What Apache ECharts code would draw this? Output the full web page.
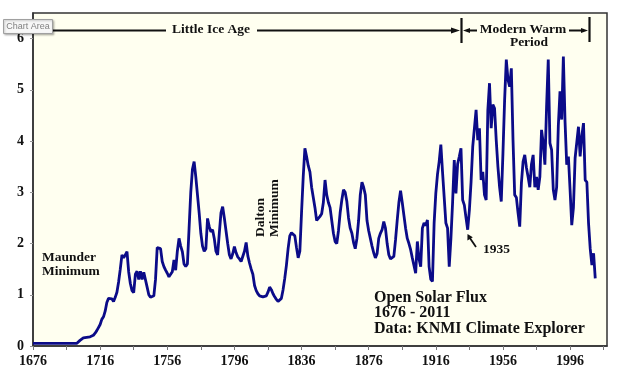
<!DOCTYPE html>
<html>
<head>
<meta charset="utf-8">
<script src="https://cdn.jsdelivr.net/npm/echarts@6/dist/echarts.min.js"></script>
<style>
html,body{margin:0;padding:0;background:#fff;}
#chart{width:624px;height:378px;}
</style>
</head>
<body>
<div id="chart"></div>
<script>
// Open solar flux, yearly values
var startYear = 1676;
var flux1676to1715 = [0.05,0.05,0.05,0.05,0.05,0.05,0.05,0.05,0.05,0.05,
  0.05,0.05,0.05,0.05,0.05,0.05,0.05,0.05,0.05,0.05,
  0.05,0.05,0.05,0.05,0.05,0.05,0.05,0.08,0.11,0.14,
  0.16,0.17,0.17,0.17,0.18,0.19,0.21,0.25,0.30,0.36];
var flux1716to1786 = [0.42,0.52,
  0.57,0.68,0.85,0.93,0.95,0.92,0.87,0.95,1.05,1.25,
  1.50,1.78,1.72,1.78,1.84,1.45,1.22,1.08,1.04,1.40,
  1.46,1.30,1.46,1.30,1.44,1.42,1.15,1.00,0.95,0.96,
  0.98,1.30,1.92,1.94,1.90,1.65,1.55,1.48,1.42,1.35,
  1.36,1.45,1.68,1.48,1.85,2.10,1.95,1.84,1.60,1.55,
  1.60,2.30,3.00,3.45,3.60,3.30,2.95,2.60,2.20,1.95,
  1.85,1.90,2.49,2.33,2.23,2.27,2.10,1.85,1.78];
var flux1787to1903 = [2.20,2.60,2.72,2.50,2.25,2.00,1.78,1.70,1.80,1.94,
  1.82,1.74,1.70,1.65,1.62,1.85,2.02,1.76,1.62,1.50,
  1.40,1.18,1.08,1.02,0.98,0.96,0.96,0.97,0.98,1.05,
  1.15,1.10,1.02,0.96,0.91,0.87,0.89,0.93,1.10,1.32,
  1.58,1.90,2.15,2.21,2.23,2.15,1.92,1.72,1.85,2.60,
  3.30,3.86,3.70,3.52,3.40,3.10,2.90,2.70,2.45,2.45,
  2.53,2.58,2.80,3.24,2.95,2.80,2.70,2.45,2.20,2.04,
  2.00,2.25,2.60,2.85,3.05,3.00,2.82,2.50,2.30,2.20,
  2.02,1.90,2.10,2.45,2.95,3.20,3.10,2.95,2.45,2.25,
  2.10,1.95,1.82,1.72,1.80,2.10,2.20,2.27,2.43,2.30,
  2.00,1.78,1.70,1.69,1.75,2.07,2.45,2.80,3.03,2.80,
  2.55,2.30,2.10,2.00,1.88,1.72,1.72];
var flux1904to2011 = [1.42,2.04,1.70,1.55,2.30,2.40,2.35,2.46,1.55,1.30,
  1.26,2.40,2.98,3.35,3.60,3.93,3.40,2.90,2.40,2.30,
  1.55,2.10,2.80,3.63,2.98,3.55,3.70,3.86,2.85,2.75,
  2.50,2.27,2.65,3.20,3.89,3.90,4.61,4.02,4.25,3.24,
  3.40,2.95,2.85,4.60,5.13,4.25,4.71,4.64,4.02,3.50,
  3.10,2.82,3.76,4.80,5.59,5.20,5.06,5.42,4.02,2.95,
  2.90,2.60,2.33,3.18,3.60,3.73,3.48,3.30,3.10,3.55,
  3.73,3.10,3.30,3.05,3.30,4.22,3.96,3.54,4.67,5.59,
  3.96,3.83,3.05,2.85,3.10,4.30,4.97,4.42,5.65,4.38,
  3.54,3.70,3.05,2.36,2.70,3.67,3.70,4.28,3.70,4.10,
  4.35,3.24,3.20,2.40,1.90,1.58,1.81,1.32];
var xLabelYears = [1676,1716,1756,1796,1836,1876,1916,1956,1996];
var xTickYears = [1676,1696,1716,1736,1756,1776,1796,1816,1836,1856,1876,1896,1916,1936,1956,1976,1996,2016];
var yLabels = [0,1,2,3,4,5,6];

var allFlux = flux1676to1715.concat(flux1716to1786, flux1787to1903, flux1904to2011);
var seriesData = allFlux.map(function(v, i){ return [startYear + i, v]; });

var SERIF = '"Liberation Serif", "DejaVu Serif", serif';
var chart = echarts.init(document.getElementById('chart'), null, {renderer:'canvas'});

function tri(points, fill){
  return {type:'polygon', z:100, shape:{points:points}, style:{fill:fill||'#111'}};
}
function seg(x1,y1,x2,y2,w){
  return {type:'line', z:100, shape:{x1:x1,y1:y1,x2:x2,y2:y2}, style:{stroke:'#111', lineWidth:w||2}};
}
function txt(x,y,t,opt){
  opt = opt || {};
  return {type:'text', z:100, x:x, y:y, rotation:opt.rotation||0,
    style:{text:t, font:'bold '+(opt.size||13.5)+'px '+SERIF, fill:'#111',
      align:opt.align||'center', verticalAlign:opt.va||'middle', lineHeight:opt.lh||15}};
}

var option = {
  animation:false,
  backgroundColor:'#ffffff',
  grid:{left:33, top:13, right:17, bottom:32, show:true, backgroundColor:'#fffff0', borderColor:'#333', borderWidth:1.5},
  xAxis:{
    type:'value', min:1676, max:2018,
    axisLine:{show:true, onZero:false, lineStyle:{color:'#333', width:1.5}},
    axisTick:{show:true, customValues:xTickYears, length:4, lineStyle:{color:'#777'}},
    axisLabel:{customValues:xLabelYears, formatter:function(v){return String(v);}, margin:8,
      fontFamily:SERIF, fontWeight:'bold', fontSize:14, color:'#111'},
    splitLine:{show:false}
  },
  yAxis:{
    type:'value', min:0, max:6.5,
    axisLine:{show:true, lineStyle:{color:'#333', width:1.5}},
    axisTick:{show:true, customValues:yLabels, length:3, lineStyle:{color:'#999'}},
    axisLabel:{customValues:yLabels, margin:9, fontFamily:SERIF, fontWeight:'bold', fontSize:14, color:'#111'},
    splitLine:{show:false}
  },
  series:[{
    type:'line', data:seriesData, showSymbol:false, symbol:'none',
    lineStyle:{color:'#0b0b88', width:2.8}, z:5
  }],
  graphic:[
    // Little Ice Age arrow
    seg(44,30.5,166,30.5),
    tri([[37,30.5],[46,27.5],[46,33.5]]),
    txt(211,30,'Little Ice Age'),
    seg(257,30.5,452,30.5),
    tri([[460,30.5],[451,27.5],[451,33.5]]),
    seg(461.5,18,461.5,43,2.2),
    // Modern Warm Period
    tri([[463,30.5],[470,28],[470,33]]),
    seg(469,30.5,477,30.5),
    txt(523,30,'Modern Warm'),
    txt(529,43,'Period'),
    seg(569,30.5,582,30.5),
    tri([[588,30.5],[581,28],[581,33]]),
    seg(589.5,17,589.5,42,2.2),
    // Maunder Minimum
    txt(42,265,'Maunder\nMinimum',{align:'left', lh:14}),
    // Dalton Minimum (rotated)
    txt(254,237,'Dalton\nMinimum',{align:'left', va:'top', rotation:Math.PI/2, lh:14}),
    // 1935 annotation
    seg(476,247,469.5,237.5,1.8),
    tri([[467.5,234],[467.4,240.5],[472.8,237.3]]),
    txt(483,250,'1935',{align:'left'}),
    // Title block
    txt(374,290,'Open Solar Flux\n1676 - 2011\nData: KNMI Climate Explorer',{align:'left', va:'top', size:16, lh:15.5}),
    // Excel "Chart Area" tooltip box
    {type:'rect', z:200, shape:{x:3.5,y:19.5,width:49,height:14}, style:{fill:'#f7f7f7', stroke:'#a0a0a0', lineWidth:1, shadowBlur:2, shadowColor:'rgba(0,0,0,0.25)', shadowOffsetX:1, shadowOffsetY:1}},
    {type:'text', z:201, x:28, y:26.5, style:{text:'Chart Area', font:'9px "Liberation Sans", "DejaVu Sans", sans-serif', fill:'#808080', align:'center', verticalAlign:'middle'}}
  ]
};
chart.setOption(option);
</script>
</body>
</html>
